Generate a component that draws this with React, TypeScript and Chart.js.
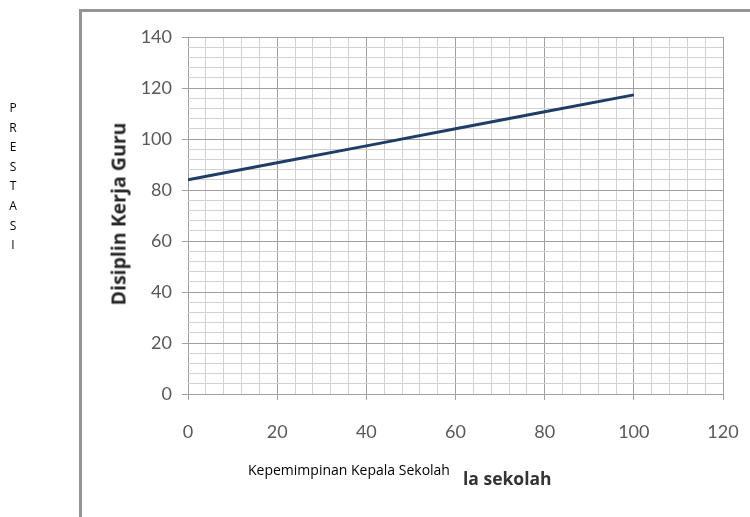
import React, { useEffect, useRef } from "react";
import { Chart, registerables } from "chart.js";

Chart.register(...registerables);

const xValues = [0, 20, 40, 60, 80, 100];
const yValues = [84, 90.7, 97.3, 104, 110.7, 117.3];
const xTickLabels = [0, 20, 40, 60, 80, 100, 120];
const yTickLabels = [0, 20, 40, 60, 80, 100, 120, 140];
const yTitle = "Disiplin Kerja Guru";
const xTitle = "Kepemimpinan Kepala Sekolah";
const xTitleCut = "la sekolah";
const sideLabel = "PRESTASI";

const MAJOR = "#a0a0a0";
const MINOR = "#d2d2d2";

export default function App() {
  const ref = useRef<HTMLCanvasElement | null>(null);

  useEffect(() => {
    if (!ref.current) return;
    const chart = new Chart(ref.current, {
      type: "line",
      data: {
        datasets: [
          {
            data: xValues.map((x, i) => ({ x, y: yValues[i] })),
            borderColor: "#1f3d66",
            borderWidth: 3,
            pointRadius: 0,
            fill: false,
            tension: 0,
          },
        ],
      },
      options: {
        responsive: false,
        animation: false,
        layout: { padding: { left: 100, right: 27, top: 37, bottom: 63 } },
        plugins: {
          legend: { display: false },
          tooltip: { enabled: false },
          title: { display: false },
        },
        scales: {
          x: {
            type: "linear",
            min: 0,
            max: 120,
            afterFit: (s: any) => {
              s.height = 60;
              s.paddingLeft = 0;
              s.paddingRight = 0;
            },
            border: { display: false },
            grid: {
              color: (c: any) => (c.tick && c.tick.value % 20 === 0 ? MAJOR : MINOR),
              tickColor: (c: any) =>
                c.tick && c.tick.value % 20 === 0 ? MAJOR : "rgba(0,0,0,0)",
              tickLength: 6,
              lineWidth: 1,
            },
            ticks: {
              stepSize: 4,
              autoSkip: false,
              maxRotation: 0,
              padding: 21,
              color: "#595959",
              font: { family: "Lato", size: 18 },
              callback: (v: any) => (xTickLabels.includes(Number(v)) ? String(v) : ""),
            },
          },
          y: {
            min: 0,
            max: 140,
            afterFit: (s: any) => {
              s.width = 88;
              s.paddingTop = 0;
              s.paddingBottom = 0;
            },
            border: { display: false },
            grid: {
              color: (c: any) => (c.tick && c.tick.value % 20 === 0 ? MAJOR : MINOR),
              tickColor: (c: any) =>
                c.tick && c.tick.value % 20 === 0 ? MAJOR : "rgba(0,0,0,0)",
              tickLength: 6,
              lineWidth: 1,
            },
            ticks: {
              stepSize: 4,
              autoSkip: false,
              padding: 10,
              color: "#595959",
              font: { family: "Lato", size: 18 },
              callback: (v: any) => (yTickLabels.includes(Number(v)) ? String(v) : ""),
            },
          },
        },
      },
    });
    return () => chart.destroy();
  }, []);

  return (
    <div
      style={{
        position: "absolute",
        left: 0,
        top: 0,
        width: 750,
        height: 517,
        background: "#ffffff",
        overflow: "hidden",
      }}
    >
      <div
        style={{
          position: "absolute",
          left: 79,
          top: 9,
          width: 3,
          height: 508,
          background: "#949494",
        }}
      />
      <div
        style={{
          position: "absolute",
          left: 79,
          top: 9,
          width: 671,
          height: 3,
          background: "#949494",
        }}
      />
      <canvas
        ref={ref}
        width={750}
        height={517}
        style={{ position: "absolute", left: 0, top: 0, width: 750, height: 517 }}
      />
      <div
        style={{
          position: "absolute",
          left: 3,
          top: 98,
          width: 20,
          textAlign: "center",
          fontFamily: "Open Sans",
          fontSize: 12,
          lineHeight: "19.6px",
          color: "#000",
        }}
      >
        {sideLabel.split("").map((ch, i) => (
          <div key={i}>{ch}</div>
        ))}
      </div>
      <div
        style={{
          position: "absolute",
          left: 118,
          top: 214,
          transform: "translate(-50%, -50%) rotate(-90deg)",
          whiteSpace: "nowrap",
          fontFamily: "Open Sans",
          fontWeight: 700,
          fontSize: 19.5,
          color: "#262626",
        }}
      >
        {yTitle}
      </div>
      <div
        style={{
          position: "absolute",
          left: 248,
          top: 469,
          transform: "translateY(-50%)",
          whiteSpace: "nowrap",
          fontFamily: "Open Sans",
          fontSize: 14,
          color: "#000",
        }}
      >
        {xTitle}
      </div>
      <div
        style={{
          position: "absolute",
          left: 463,
          top: 478,
          transform: "translateY(-50%)",
          whiteSpace: "nowrap",
          fontFamily: "Open Sans",
          fontWeight: 700,
          fontSize: 17.5,
          color: "#333333",
        }}
      >
        {xTitleCut}
      </div>
    </div>
  );
}
